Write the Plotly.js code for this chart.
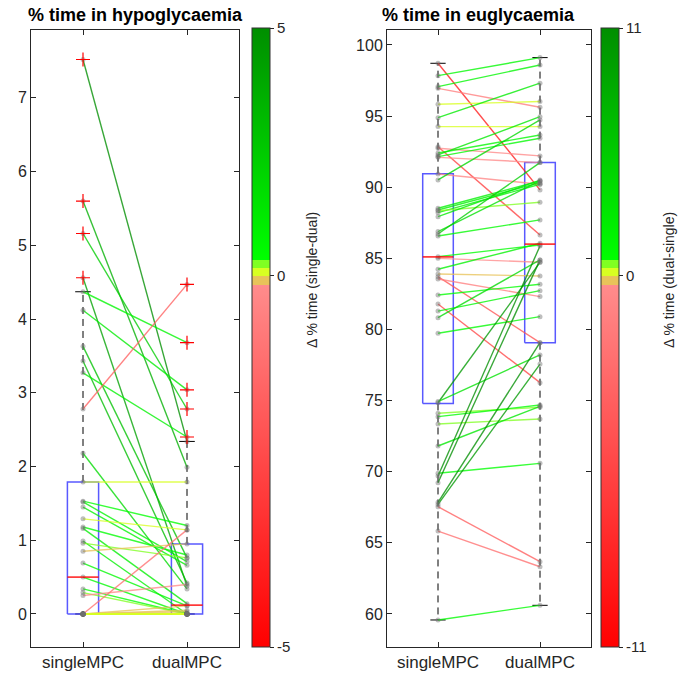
<!DOCTYPE html>
<html>
<head>
<meta charset="utf-8">
<script src="https://cdn.plot.ly/plotly-3.0.1.min.js"></script>
<style>html,body{margin:0;padding:0;background:#fff;}#chart{width:691px;height:679px;}</style>
</head>
<body>
<div id="chart"></div>
<script>
// ---------- data ----------
const categories = ['singleMPC', 'dualMPC'];

// % time in hypoglycaemia, paired per subject
const hypoSingle = [7.52,5.60,5.16,4.56,4.37,4.12,3.63,3.43,3.27,2.78,2.18,1.79,1.53,1.52,1.45,1.29,1.18,1.16,0.99,0.96,0.85,0.69,0.50,0.34,0.29,0.25,
  0,0,0,0,0,0,0,0,0,0,0,0,0,0,0,0,0,0,0,0,0];
const hypoDual   = [2.34,1.99,2.78,0.38,3.68,3.04,0.76,0.42,2.40,4.47,0.34,1.79,1.20,0.71,0.66,1.14,0.80,0.14,0,0.76,0.95,0.11,0,0,0,0.40,
  1.14,0.11,0.05,0.03,0,0,0,0,0,0,0,0,0,0,0,0,0,0,0,0,0];

// % time in euglycaemia, paired per subject
const euSingle = [98.71,97.84,97.07,96.95,95.83,94.89,94.26,92.85,92.74,92.40,92.27,92.15,92.10,90.93,90.51,88.52,88.40,88.21,88.35,87.93,
  86.88,86.71,86.57,85.12,85.00,84.23,83.90,83.71,83.55,82.42,81.79,81.29,80.83,79.73,74.85,74.93,74.11,73.87,73.36,71.81,
  69.89,69.70,69.23,67.85,67.70,67.54,65.83,59.58];
const euDual   = [89.81,99.11,98.59,95.62,96.02,97.31,94.26,86.64,92.20,93.67,94.96,93.44,91.73,90.21,94.73,90.44,90.32,90.21,88.94,90.50,
  90.44,91.73,87.70,85.94,84.72,86.06,83.76,79.07,82.31,83.18,76.26,82.73,84.89,80.90,84.72,78.21,74.53,74.69,73.71,74.60,
  70.59,85.87,84.89,79.07,77.57,63.68,63.32,60.61];

// box statistics: [q1, median, q3, lower whisker, upper whisker]
const hypoSingleStats = [0, 0.50, 1.79, 0, 4.37];
const hypoDualStats   = [0, 0.12, 0.95, 0, 2.34];
const euSingleStats   = [74.8, 85.1, 90.95, 59.58, 98.71];
const euDualStats     = [79.07, 86.0, 91.73, 60.61, 99.11];

// colour bar limits and tick labels
const hypoCbarTicks = ['-5', '0', '5'];
const euCbarTicks   = ['-11', '0', '11'];
const hypoLimit = 5, euLimit = 11;

// ---------- styles ----------
const zeroPos = 0.6;
const cscale = [
  [0, '#FF0000'], [0.585, '#FF8C8C'],
  [0.585, '#E8C35A'], [0.6, '#E8C35A'],
  [0.6, '#D8FF22'], [0.6125, '#D8FF22'],
  [0.6125, '#80FF22'], [0.625, '#80FF22'],
  [0.625, '#00FF00'], [1, '#008E00']
];
function hex2rgb(h){return [parseInt(h.substr(1,2),16),parseInt(h.substr(3,2),16),parseInt(h.substr(5,2),16)];}
function colorAt(t, alpha){
  t = Math.max(0, Math.min(1, t));
  let seg = null;
  for (let i = 0; i < cscale.length - 1; i++) {
    const a = cscale[i], b = cscale[i+1];
    if (b[0] > a[0] && t >= a[0] && t < b[0]) { seg = [a, b]; break; }
  }
  if (!seg) seg = [cscale[cscale.length-2], cscale[cscale.length-1]];
  const [a, b] = seg;
  const f = Math.min(1, (t - a[0]) / (b[0] - a[0]));
  const ca = hex2rgb(a[1]), cb = hex2rgb(b[1]);
  const c = ca.map((v, k) => Math.round(v + (cb[k] - v) * f));
  return `rgba(${c[0]},${c[1]},${c[2]},${alpha})`;
}
function deltaToT(d, lim){
  if (d < 0) return zeroPos * (d + lim) / lim;
  return zeroPos + (1 - zeroPos) * d / lim;
}

const traces = [];
function addPanel(a, b, stats1, stats2, sign, lim, xa, ya, cax){
  const boxW = 0.15, capW = 0.075;
  [[1, stats1], [2, stats2]].forEach(([xc, s]) => {
    const [q1, med, q3, lo, hi] = s;
    traces.push({x:[xc,xc,null,xc,xc], y:[q3,hi,null,q1,lo], xaxis:xa, yaxis:ya, mode:'lines',
      line:{color:'#000', width:1, dash:'7px,5px'}, hoverinfo:'skip'});
    traces.push({x:[xc-capW,xc+capW,null,xc-capW,xc+capW], y:[hi,hi,null,lo,lo], xaxis:xa, yaxis:ya, mode:'lines',
      line:{color:'#000', width:1}, hoverinfo:'skip'});
    traces.push({x:[xc-boxW,xc+boxW,xc+boxW,xc-boxW,xc-boxW], y:[q1,q1,q3,q3,q1], xaxis:xa, yaxis:ya, mode:'lines',
      line:{color:'rgba(60,60,255,0.85)', width:1.5}, hoverinfo:'skip'});
  });
  // paired lines
  for (let i = 0; i < a.length; i++) {
    const d = sign * (b[i] - a[i]);
    traces.push({x:[1,2], y:[a[i], b[i]], xaxis:xa, yaxis:ya, mode:'lines',
      line:{color:colorAt(deltaToT(d, lim), 0.78), width:1.4}, hoverinfo:'skip'});
  }
  // points
  traces.push({x:a.map(()=>1).concat(b.map(()=>2)), y:a.concat(b), xaxis:xa, yaxis:ya, mode:'markers',
    marker:{color:'rgba(110,110,110,0.45)', size:5}, hoverinfo:'skip'});
  // medians
  [[1, stats1], [2, stats2]].forEach(([xc, s]) => {
    traces.push({x:[xc-boxW, xc+boxW], y:[s[1], s[1]], xaxis:xa, yaxis:ya, mode:'lines',
      line:{color:'rgba(255,0,0,0.9)', width:1.5}, hoverinfo:'skip'});
  });
  // outliers
  const ox = [], oy = [];
  a.forEach(v => { if (v > stats1[4] || v < stats1[3]) { ox.push(1); oy.push(v); } });
  b.forEach(v => { if (v > stats2[4] || v < stats2[3]) { ox.push(2); oy.push(v); } });
  traces.push({x:ox, y:oy, xaxis:xa, yaxis:ya, mode:'markers',
    marker:{symbol:'cross-thin', size:10, line:{color:'#FF0000', width:1.2}}, hoverinfo:'skip'});
  // dummy for colour bar
  traces.push({x:[1,1], y:[-1e6,-1e6], xaxis:xa, yaxis:ya, mode:'markers',
    marker:{color:[0,1], coloraxis:cax, size:1}, hoverinfo:'skip'});
}
addPanel(hypoSingle, hypoDual, hypoSingleStats, hypoDualStats, -1, hypoLimit, 'x', 'y', 'coloraxis');
addPanel(euSingle, euDual, euSingleStats, euDualStats, 1, euLimit, 'x2', 'y2', 'coloraxis2');

const W = 691, H = 679;
const axCommon = {ticks:'inside', ticklen:5, tickcolor:'#262626', tickwidth:1, showline:true, linecolor:'#262626',
  linewidth:1, mirror:'ticks', showgrid:false, zeroline:false, fixedrange:true};
const xFont = {size:17, color:'#262626'}, yFont = {size:16, color:'#262626'};
const ydom = [1 - 647/H, 1 - 30/H];
function cbar(x, ticks){
  return {x:x/W, xanchor:'left', xpad:0, ypad:0, thickness:18, thicknessmode:'pixels',
    len:619/H, lenmode:'fraction', y:1 - 337.5/H, yanchor:'middle',
    tickvals:[0, zeroPos, 1], ticktext:ticks, ticks:'outside', ticklen:4, tickcolor:'#262626',
    outlinewidth:1, outlinecolor:'#333', tickfont:{size:15, color:'#262626'}};
}
const layout = {
  width:W, height:H, margin:{l:0, r:0, t:0, b:0}, paper_bgcolor:'#fff', plot_bgcolor:'#fff',
  showlegend:false, font:{family:'Liberation Sans, Arial, sans-serif', color:'#262626', size:15},
  xaxis:Object.assign({}, axCommon, {domain:[31/W, 239/W], range:[0.5, 2.5], tickvals:[1,2], ticktext:categories, anchor:'y', tickfont:xFont}),
  yaxis:Object.assign({}, axCommon, {domain:ydom, range:[-0.448, 7.92], tickvals:[0,1,2,3,4,5,6,7], anchor:'x', tickfont:yFont}),
  xaxis2:Object.assign({}, axCommon, {domain:[387/W, 591/W], range:[0.5, 2.5], tickvals:[1,2], ticktext:categories, anchor:'y2', tickfont:xFont}),
  yaxis2:Object.assign({}, axCommon, {domain:ydom, range:[57.68, 101.05], tickvals:[60,65,70,75,80,85,90,95,100], anchor:'x2', tickfont:yFont}),
  coloraxis:{cmin:0, cmax:1, colorscale:cscale, colorbar:cbar(252, hypoCbarTicks)},
  coloraxis2:{cmin:0, cmax:1, colorscale:cscale, colorbar:cbar(601, euCbarTicks)},
  annotations:[
    {text:'<b>% time in hypoglycaemia</b>', x:135/W, y:1 - 15/H, xref:'paper', yref:'paper', showarrow:false,
      xanchor:'center', yanchor:'middle', font:{size:18, color:'#000'}},
    {text:'<b>% time in euglycaemia</b>', x:478/W, y:1 - 15/H, xref:'paper', yref:'paper', showarrow:false,
      xanchor:'center', yanchor:'middle', font:{size:18, color:'#000'}},
    {text:'Δ % time (single-dual)', x:312/W, y:1 - 280/H, xref:'paper', yref:'paper', showarrow:false,
      textangle:-90, xanchor:'center', yanchor:'middle', font:{size:14, color:'#262626'}},
    {text:'Δ % time (dual-single)', x:669/W, y:1 - 280/H, xref:'paper', yref:'paper', showarrow:false,
      textangle:-90, xanchor:'center', yanchor:'middle', font:{size:14, color:'#262626'}}
  ]
};
Plotly.newPlot('chart', traces, layout, {staticPlot:true, displayModeBar:false});
</script>
</body>
</html>
